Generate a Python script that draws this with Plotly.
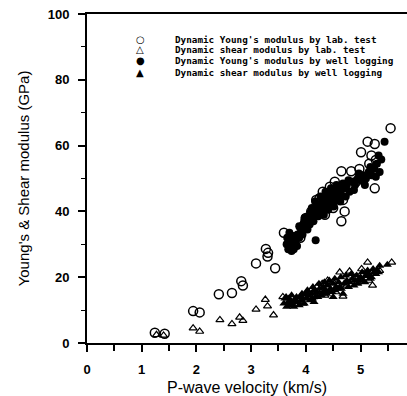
import plotly.graph_objects as go

# Dynamic Young's modulus by lab. test (open circles)
lab_E_vp = [1.24, 1.42, 1.94, 2.06, 2.41, 2.65, 2.82, 2.85, 3.09, 3.27, 3.31, 3.30, 3.44,
            3.60, 3.80, 3.90, 3.75, 4.00, 4.10, 4.19, 4.25, 4.31, 4.38, 4.44, 4.53, 4.60,
            4.65, 4.68, 4.71, 4.65, 4.83, 4.92, 4.98, 5.01, 5.13, 5.16, 5.26, 5.26, 5.28,
            5.55, 4.50, 4.35, 5.20, 5.05]
lab_E = [3.1, 2.8, 9.7, 9.3, 14.8, 15.2, 18.8, 17.5, 24.2, 28.6, 27.4, 26.3, 22.7,
         33.5, 31.6, 32.0, 30.5, 38.0, 40.0, 43.5, 44.0, 46.0, 45.0, 47.5, 49.0, 44.0,
         52.2, 43.5, 40.0, 37.0, 52.2, 49.0, 52.9, 58.0, 61.2, 54.5, 60.5, 47.0, 55.6,
         65.3, 41.0, 39.0, 57.0, 50.0]

# Dynamic shear modulus by lab. test (open triangles)
lab_G_vp = [1.27, 1.40, 1.94, 2.06, 2.43, 2.65, 2.79, 2.85, 3.09, 3.26, 3.30, 3.41, 3.58,
            3.70, 3.80, 3.90, 4.00, 4.10, 4.20, 4.30, 4.40, 4.50, 4.62, 4.68, 4.80, 4.90,
            5.02, 5.13, 5.22, 5.30, 5.57, 4.45, 4.25, 5.10,
            3.75, 3.95, 4.15, 4.35, 4.55, 4.75, 4.95, 5.15, 5.35]
lab_G = [2.5, 2.3, 4.5, 3.5, 7.0, 5.8, 7.8, 6.8, 10.2, 13.2, 11.2, 8.5, 14.0,
         12.5, 12.0, 14.0, 15.0, 16.0, 17.0, 18.0, 19.0, 18.5, 21.5, 14.2, 21.8, 20.0,
         22.5, 24.5, 17.5, 22.0, 24.5, 16.0, 15.0, 20.5,
         13.5, 12.0, 14.0, 14.5, 15.5, 17.5, 18.5, 19.0, 22.0]

# Dynamic Young's modulus by well logging (filled circles)
log_E_vp = [3.65, 3.68, 3.70, 3.72, 3.75, 3.78, 3.80, 3.82, 3.85, 3.88, 3.90, 3.92, 3.95,
            3.97, 4.00, 4.02, 4.05, 4.08, 4.10, 4.12, 4.15, 4.18, 4.20, 4.22, 4.25, 4.28,
            4.30, 4.32, 4.35, 4.38, 4.40, 4.42, 4.45, 4.48, 4.50, 4.52, 4.55, 4.58, 4.60,
            4.62, 4.65, 4.70, 4.75, 4.80, 4.85, 4.90, 4.95, 5.00, 5.05, 5.10, 5.15, 5.20,
            5.25, 5.30, 5.35, 5.38, 5.44, 4.18,
            3.66, 3.70, 3.74, 3.78, 3.84, 3.88, 3.94, 3.98, 4.03, 4.07, 4.11, 4.14, 4.17,
            4.23, 4.27, 4.33, 4.36, 4.41, 4.46, 4.51, 4.56, 4.63, 4.68, 4.73, 4.78, 4.88,
            4.97, 5.08, 5.18, 5.28, 5.33]
log_E = [30.0, 28.5, 31.0, 29.0, 30.5, 28.5, 30.0, 31.5, 33.0, 32.0, 35.0, 34.0, 36.0,
         37.0, 36.5, 38.0, 37.0, 39.5, 38.0, 40.0, 39.0, 41.0, 40.0, 42.0, 41.5, 40.0,
         43.0, 42.0, 44.0, 41.0, 43.5, 45.0, 42.0, 44.5, 46.0, 43.0, 45.0, 47.0, 44.0,
         46.5, 45.0, 47.0, 48.0, 46.0, 49.0, 48.0, 50.0, 49.5, 51.0, 50.0, 52.0, 51.0,
         53.0, 54.5, 52.0, 55.8, 61.2, 31.2,
         32.0, 33.5, 28.0, 32.5, 29.5, 35.5, 33.0, 38.0, 34.5, 36.0, 41.0, 37.0, 43.0,
         38.5, 44.5, 39.0, 46.0, 40.5, 47.0, 41.5, 48.0, 43.0, 48.5, 44.5, 49.5, 46.5,
         51.5, 48.0, 53.5, 50.5, 57.0]

# Dynamic shear modulus by well logging (filled triangles)
log_G_vp = [3.60, 3.62, 3.65, 3.68, 3.70, 3.72, 3.75, 3.78, 3.80, 3.85, 3.90, 3.92, 3.95,
            4.00, 4.02, 4.05, 4.10, 4.12, 4.15, 4.20, 4.22, 4.25, 4.30, 4.32, 4.35, 4.40,
            4.42, 4.45, 4.50, 4.52, 4.55, 4.60, 4.62, 4.65, 4.70, 4.75, 4.80, 4.85, 4.90,
            4.95, 5.00, 5.05, 5.10, 5.15, 5.20, 5.25, 5.30, 5.35, 5.49, 4.15, 4.50,
            3.64, 3.69, 3.74, 3.79, 3.83, 3.88, 3.93, 3.97, 4.03, 4.08, 4.13, 4.18, 4.24,
            4.28, 4.34, 4.38, 4.43, 4.48, 4.53, 4.58, 4.64, 4.68, 4.73, 4.78, 4.83, 4.88,
            4.93, 4.98, 5.03, 5.08, 5.13, 5.18, 5.23, 5.28, 5.33]
log_G = [12.0, 13.5, 11.0, 12.5, 11.5, 13.0, 12.0, 11.0, 13.0, 12.5, 14.0, 13.0, 13.5,
         15.0, 13.5, 14.5, 15.0, 13.5, 16.0, 15.5, 14.0, 16.5, 15.0, 17.0, 16.0, 17.5,
         15.5, 16.5, 18.0, 16.0, 17.0, 18.5, 17.0, 16.5, 18.0, 19.0, 18.5, 19.5, 19.0,
         18.0, 20.0, 19.0, 20.5, 21.0, 20.0, 21.5, 22.0, 23.5, 23.8, 12.5, 14.0,
         14.0, 13.5, 14.5, 12.5, 14.0, 11.5, 15.0, 12.0, 16.0, 13.0, 17.0, 14.0, 18.0,
         14.5, 18.5, 15.0, 19.0, 15.5, 19.5, 16.5, 20.0, 15.0, 20.5, 17.0, 21.0, 17.5,
         20.5, 19.0, 21.5, 18.5, 22.0, 19.5, 22.5, 21.0, 21.5]

legend_labels = ["Dynamic Young's modulus by lab. test",
                 "Dynamic shear modulus by lab. test",
                 "Dynamic Young's modulus by well logging",
                 "Dynamic shear modulus by well logging"]
legend_symbols = ["○", "△", "●", "▲"]

x_ticks = [0, 1, 2, 3, 4, 5]
y_ticks = [0, 20, 40, 60, 80, 100]

fig = go.Figure()
fig.add_trace(go.Scatter(x=log_E_vp, y=log_E, mode="markers", name=legend_labels[2],
                         marker=dict(symbol="circle", size=8, color="black")))
fig.add_trace(go.Scatter(x=log_G_vp, y=log_G, mode="markers", name=legend_labels[3],
                         marker=dict(symbol="triangle-up", size=8, color="black")))
fig.add_trace(go.Scatter(x=lab_E_vp, y=lab_E, mode="markers", name=legend_labels[0],
                         marker=dict(symbol="circle-open", size=9, color="black",
                                     line=dict(width=1.5, color="black"))))
fig.add_trace(go.Scatter(x=lab_G_vp, y=lab_G, mode="markers", name=legend_labels[1],
                         marker=dict(symbol="triangle-up-open", size=7, color="black",
                                     line=dict(width=1.2, color="black"))))

rows_y = [0.923, 0.891, 0.858, 0.822]
ann = []
for sym, lab, yy in zip(legend_symbols, legend_labels, rows_y):
    ann.append(dict(x=0.166, y=yy, xref="paper", yref="paper", text=sym, showarrow=False,
                    xanchor="center", yanchor="middle",
                    font=dict(family="DejaVu Sans", size=10, color="black")))
    ann.append(dict(x=0.269, y=yy, xref="paper", yref="paper", text=lab, showarrow=False,
                    xanchor="left", yanchor="middle",
                    font=dict(family="DejaVu Sans Mono", size=9.3, color="black", weight="bold")))

fig.update_layout(
    width=407, height=396,
    margin=dict(l=87, r=0, t=13.5, b=52.7),
    paper_bgcolor="white", plot_bgcolor="white",
    showlegend=False,
    annotations=ann,
    font=dict(family="Liberation Sans", color="black"),
    xaxis=dict(range=[0, 5.85], showgrid=False, zeroline=False, automargin=False,
               showline=True, linecolor="black", linewidth=2, mirror=True,
               ticks="outside", ticklen=7, tickwidth=1.5, tickcolor="black",
               tickvals=x_ticks, ticklabelstandoff=6,
               minor=dict(dtick=0.5, ticks="outside", ticklen=6, tickwidth=1.5, tickcolor="black"),
               tickfont=dict(size=13, weight="bold"),
               title=dict(text="P-wave velocity (km/s)", font=dict(size=16), standoff=14)),
    yaxis=dict(range=[0, 100], showgrid=False, zeroline=False, automargin=False,
               showline=True, linecolor="black", linewidth=2,
               ticks="outside", ticklen=7, tickwidth=1.5, tickcolor="black",
               tickvals=y_ticks, ticklabelstandoff=6,
               minor=dict(dtick=10, ticks="outside", ticklen=4, tickwidth=1.2, tickcolor="black"),
               tickfont=dict(size=13, weight="bold"),
               title=dict(text="Young's & Shear modulus (GPa)", font=dict(size=15), standoff=14)),
)

fig.write_html("out.html")
